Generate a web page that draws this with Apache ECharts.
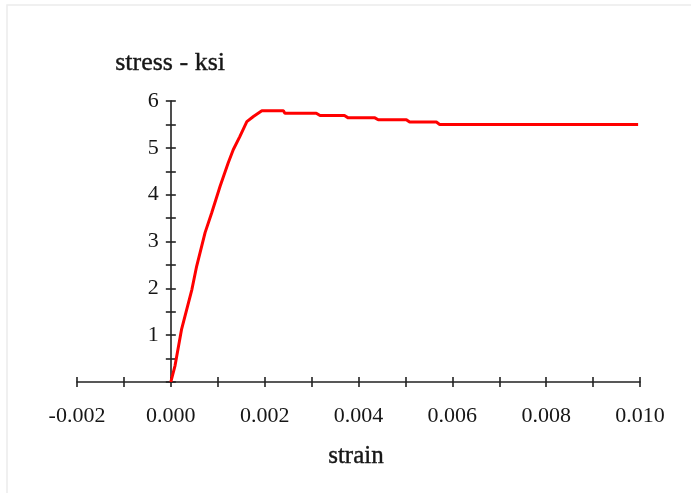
<!DOCTYPE html>
<html>
<head>
<meta charset="utf-8">
<script src="https://cdn.jsdelivr.net/npm/echarts@6/dist/echarts.min.js"></script>
<style>
html,body{margin:0;padding:0;background:#fff;}
#c{width:691px;height:493px;}
</style>
</head>
<body>
<div id="c"></div>
<script>
// Data
var strain = [0, 0.00009, 0.00023, 0.00045, 0.00055, 0.00073, 0.00087, 0.00105, 0.00122, 0.00133, 0.00147, 0.00162, 0.00176, 0.00194, 0.0024, 0.00243, 0.0031, 0.00318, 0.0037, 0.00378, 0.00435, 0.00442, 0.00502, 0.00509, 0.00566, 0.00573, 0.00996];
var stress = [0, 0.35, 1.13, 1.98, 2.47, 3.19, 3.61, 4.18, 4.67, 4.96, 5.24, 5.56, 5.67, 5.79, 5.79, 5.74, 5.74, 5.69, 5.69, 5.64, 5.64, 5.6, 5.6, 5.55, 5.55, 5.5, 5.5];
var xName = 'strain';
var yName = 'stress - ksi';
var xMin = -0.002, xMax = 0.010, xStep = 0.001;
var yMin = 0, yMax = 6, yStep = 0.5;

var pts = strain.map(function (s, i) { return [s, stress[i]]; });
var font = '"Liberation Serif", serif';
var txtColor = '#161616';
var axColor = '#222';

function xFmt(v) {
  var k = Math.round(v * 1000);
  if (k % 2 !== 0) return '';
  return (k / 1000).toFixed(3);
}
function yFmt(v) {
  if (Math.abs(v - Math.round(v)) > 1e-9 || Math.round(v) === 0) return '';
  return String(Math.round(v));
}

var W = 691, gl = 77, gr = 51;
var gridRect = { left: gl, right: gr, top: 101, bottom: 111, containLabel: false };
// shift the y axis so it sits at strain = 0
var yOff = -((0 - xMin) / (xMax - xMin)) * (W - gl - gr);

function mkX(idx, inside, showLabel) {
  return {
    type: 'value', gridIndex: idx, min: xMin, max: xMax, interval: xStep,
    splitLine: { show: false },
    axisLine: { show: showLabel, onZero: false, lineStyle: { color: axColor, width: 1.6 } },
    axisTick: { show: true, inside: inside, length: 5, lineStyle: { color: axColor, width: 1.6 } },
    axisLabel: { show: showLabel, formatter: xFmt, margin: 23, color: txtColor, fontFamily: font, fontSize: 22 }
  };
}
function mkY(idx, inside, showLabel) {
  return {
    type: 'value', gridIndex: idx, min: yMin, max: yMax, interval: yStep,
    offset: yOff,
    splitLine: { show: false },
    axisLine: { show: showLabel, onZero: false, lineStyle: { color: axColor, width: 1.6 } },
    axisTick: { show: true, inside: inside, length: 5, lineStyle: { color: axColor, width: 1.6 } },
    axisLabel: { show: showLabel, formatter: yFmt, margin: 12, color: txtColor, fontFamily: font, fontSize: 22 }
  };
}

var chart = echarts.init(document.getElementById('c'), null, { renderer: 'canvas' });
chart.setOption({
  backgroundColor: '#fff',
  animation: false,
  grid: [gridRect, Object.assign({}, gridRect)],
  xAxis: [mkX(0, false, true), mkX(1, true, false)],
  yAxis: [mkY(0, false, true), mkY(1, true, false)],
  series: [{
    type: 'line', xAxisIndex: 0, yAxisIndex: 0, data: pts,
    showSymbol: false, symbol: 'none',
    lineStyle: { color: '#ff0000', width: 3 }, z: 5
  }],
  graphic: [
    { type: 'rect', shape: { x: 7, y: 5, width: 700, height: 500 }, style: { fill: 'none', stroke: '#ececec', lineWidth: 1.5 }, z: -1 },
    { type: 'text', left: 115, top: 50, style: { text: yName, font: '26px "Liberation Serif"', fill: txtColor, stroke: txtColor, lineWidth: 0.4 } },
    { type: 'text', left: 328, top: 444, style: { text: xName, font: '25px "Liberation Serif"', fill: txtColor, stroke: txtColor, lineWidth: 0.4 } }
  ]
});
</script>
</body>
</html>
